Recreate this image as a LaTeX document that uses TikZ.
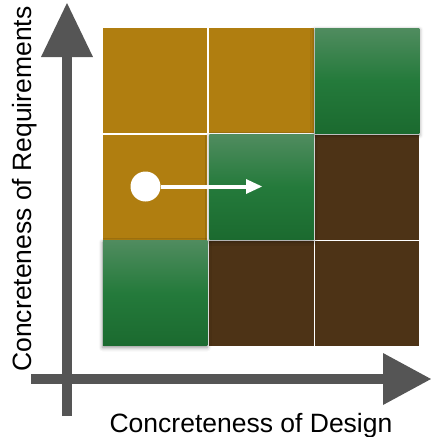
\documentclass[tikz,border=0pt]{standalone}
\usepackage{fontspec}
\setmainfont{Liberation Sans}
\usetikzlibrary{shadows.blur}
\definecolor{gold}{HTML}{B07E10}
\definecolor{darkbrown}{HTML}{4D3316}
\definecolor{gtop}{HTML}{508C5F}
\definecolor{gmid}{HTML}{247A3B}
\definecolor{gbot}{HTML}{1B6A2F}
\definecolor{axisgray}{HTML}{555555}
\begin{document}
\begin{tikzpicture}[x=1pt,y=-1pt,
  cell/.style={minimum width=104.5pt,minimum height=105pt,inner sep=0pt,outer sep=0pt},
  goldcell/.style={cell,fill=gold},
  browncell/.style={cell,fill=darkbrown},
  greencell/.style={cell,top color=gtop,bottom color=gbot,middle color=gmid,
     blur shadow={shadow xshift=0pt,shadow yshift=-2pt,shadow blur radius=4pt,shadow opacity=45}},
  axisline/.style={line width=10.5pt,draw=axisgray},
  axishead/.style={fill=axisgray,draw=none},
  lbl/.style={font=\fontsize{26.5}{30}\selectfont,inner sep=0pt}]
\useasboundingbox (0,0) rectangle (431,437);
% axes
\coordinate (yb) at (67,416);
\coordinate (yt) at (67,57);
\coordinate (xl) at (31,379);
\coordinate (xr) at (383,379);
\draw[axisline] (yb) -- (yt);
\draw[axisline] (xl) -- (xr);
\fill[axishead] (41,57) -- (93,57) -- (67,3) -- cycle;
\fill[axishead] (383,353) -- (383,405) -- (431,379) -- cycle;
% cells
\node[goldcell] (c11) at (155,80.5) {};
\node[goldcell] (c12) at (261.5,80.5) {};
\node[goldcell] (c21) at (155,187) {};
\node[browncell] (c23) at (367,187) {};
\node[browncell] (c32) at (261.5,293) {};
\node[browncell] (c33) at (367,293) {};
\node[greencell] (c13) at (367,80.5) {};
\node[greencell] (c22) at (261.5,187) {};
\node[greencell] (c31) at (155,293) {};
% marker and arrow
\node[circle,fill=white,minimum size=30pt,inner sep=0pt] (dot) at (145.5,186.5) {};
\coordinate (tip) at (262,186.5);
\draw[white,line width=4pt] (dot.east) -- (247,186.5);
\fill[white] (246,179) -- (246,194) -- (tip) -- cycle;
% labels
\node[lbl,rotate=90,anchor=base] (ylab) at (31,189) {Concreteness of Requirements};
\node[lbl,anchor=base] (xlab) at (251,432) {Concreteness of Design};
\end{tikzpicture}
\end{document}
